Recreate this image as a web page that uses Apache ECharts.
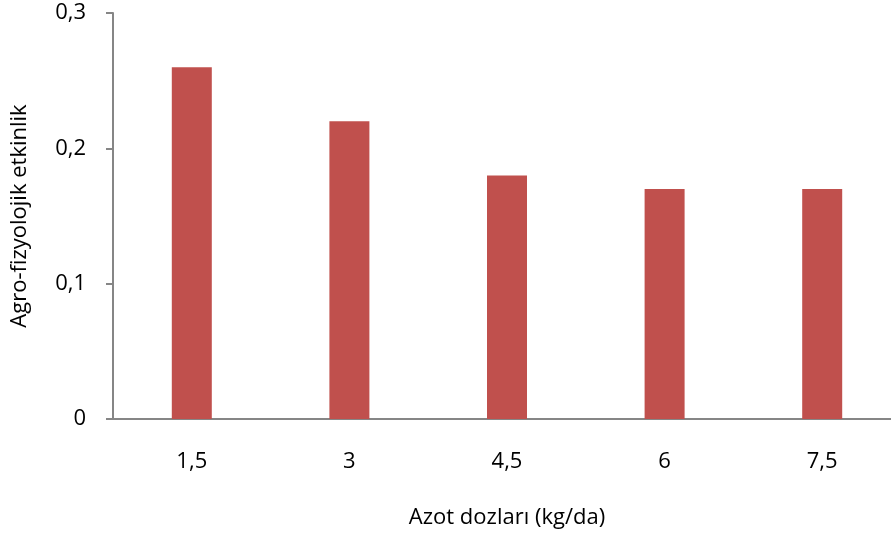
<!DOCTYPE html>
<html>
<head>
<meta charset="utf-8">
<script src="https://cdn.jsdelivr.net/npm/echarts@6/dist/echarts.min.js"></script>
<style>
  html, body { margin: 0; padding: 0; background: #fff; overflow: hidden; }
  #chart { width: 891px; height: 535px; }
</style>
</head>
<body>
<div id="chart"></div>
<script>
// Nitrogen doses (kg/da) and agro-physiological efficiency
const categories = ['1,5', '3', '4,5', '6', '7,5'];
const efficiency = [0.26, 0.22, 0.18, 0.17, 0.17];
const yTicks = [0, 0.1, 0.2, 0.3];

const FONT = 'Open Sans';
const FONT_SIZE = 22;
const axisGray = '#868686';

const chart = echarts.init(document.getElementById('chart'), null, { renderer: 'canvas' });

chart.setOption({
  animation: false,
  backgroundColor: '#ffffff',
  // the plot area runs slightly past the right edge of the canvas
  grid: { left: 113, right: -10, top: 13, bottom: 116, containLabel: false, outerBoundsMode: 'none' },
  xAxis: {
    type: 'category',
    data: categories,
    name: 'Azot dozları (kg/da)',
    nameLocation: 'middle',
    nameGap: 88,
    nameTextStyle: { fontFamily: FONT, fontSize: FONT_SIZE, color: '#000' },
    axisLine: { show: true, lineStyle: { color: axisGray, width: 2 } },
    axisTick: { show: false },
    axisLabel: { margin: 32, fontFamily: FONT, fontSize: FONT_SIZE, color: '#000' },
    splitLine: { show: false }
  },
  yAxis: {
    type: 'value',
    min: yTicks[0],
    max: yTicks[yTicks.length - 1],
    interval: 0.1,
    name: 'Agro-fizyolojik etkinlik',
    nameLocation: 'middle',
    nameGap: 82,
    nameRotate: 90,
    nameTextStyle: { fontFamily: FONT, fontSize: FONT_SIZE, color: '#000' },
    axisLine: { show: true, lineStyle: { color: axisGray, width: 2 } },
    axisTick: { show: true, length: 7, lineStyle: { color: axisGray, width: 2 } },
    axisLabel: {
      margin: 27,
      fontFamily: FONT,
      fontSize: FONT_SIZE,
      color: '#000',
      formatter: v => String(Math.round(v * 10) / 10).replace('.', ',')
    },
    splitLine: { show: false }
  },
  series: [{
    type: 'bar',
    data: efficiency,
    barWidth: 40,
    itemStyle: { color: '#C0504D' }
  }]
});
</script>
</body>
</html>
